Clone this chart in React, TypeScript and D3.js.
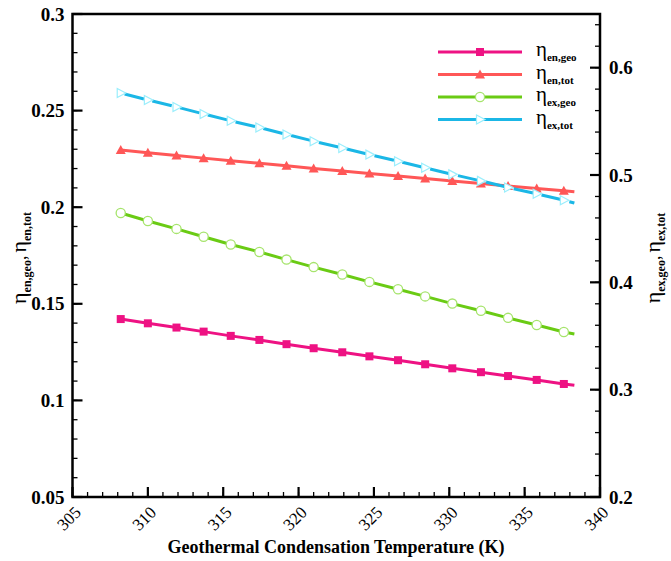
import * as d3 from "d3";

// temperature (K) at each plotted point; the last point only extends the line
const tempK = [308.2, 310.0, 311.9, 313.7, 315.5, 317.4, 319.2, 321.0, 322.9, 324.7, 326.6, 328.4, 330.2, 332.1, 333.9, 335.8, 337.6, 338.3];

const etaEnGeo = [0.1421, 0.1399, 0.1377, 0.1356, 0.1334, 0.1313, 0.1291, 0.127, 0.1249, 0.1228, 0.1208, 0.1187, 0.1166, 0.1146, 0.1126, 0.1106, 0.1085, 0.1078];
const etaEnTot = [0.2296, 0.2282, 0.2268, 0.2254, 0.2241, 0.2227, 0.2214, 0.22, 0.2187, 0.2174, 0.2161, 0.2149, 0.2136, 0.2123, 0.211, 0.2097, 0.2085, 0.208];
const etaExGeo = [0.4646, 0.4571, 0.4498, 0.4425, 0.4353, 0.4283, 0.4212, 0.4142, 0.4073, 0.4004, 0.3936, 0.3869, 0.3802, 0.3735, 0.3669, 0.3602, 0.3537, 0.3519];
const etaExTot = [0.5764, 0.5699, 0.5634, 0.5569, 0.5505, 0.5442, 0.5378, 0.5315, 0.5252, 0.519, 0.5128, 0.5067, 0.5006, 0.4945, 0.4884, 0.4825, 0.4765, 0.4739];

const xTicks = [305, 310, 315, 320, 325, 330, 335, 340];
const leftTicks = [0.05, 0.1, 0.15, 0.2, 0.25, 0.3];
const rightTicks = [0.2, 0.3, 0.4, 0.5, 0.6];

const FONT = "'Liberation Serif', 'DejaVu Serif', serif";
const TXT = { fontFamily: FONT };
const W = 671;
const H = 561;
const PLOT = { left: 72.5, right: 600, top: 14, bottom: 497 };

const x = d3.scaleLinear().domain([305, 340]).range([PLOT.left, PLOT.right]);
const yL = d3.scaleLinear().domain([0.05, 0.3]).range([PLOT.bottom, PLOT.top]);
const yR = d3.scaleLinear().domain([0.2, 0.65]).range([PLOT.bottom, PLOT.top]);

const series = [
  { key: "en,geo", vals: etaEnGeo, scale: yL, color: "#ee1283", marker: "square" },
  { key: "en,tot", vals: etaEnTot, scale: yL, color: "#ff5757", marker: "triUp" },
  { key: "ex,geo", vals: etaExGeo, scale: yR, color: "#6acb14", marker: "circle" },
  { key: "ex,tot", vals: etaExTot, scale: yR, color: "#1bb7e6", marker: "triRight", dash: "20 8.6" },
];

const Marker = ({ type, cx, cy, color }) => {
  if (type === "square") return <rect x={cx - 4} y={cy - 4} width={8} height={8} fill={color} />;
  if (type === "triUp")
    return <path d={`M${cx - 5},${cy + 4}L${cx + 5},${cy + 4}L${cx},${cy - 5}Z`} fill={color} />;
  if (type === "circle")
    return <circle cx={cx} cy={cy} r={4.6} fill="white" stroke="#a6e46c" strokeWidth={1.3} />;
  return (
    <path
      d={`M${cx - 3.5},${cy - 4.5}L${cx + 5},${cy}L${cx - 3.5},${cy + 4.5}Z`}
      fill="white"
      stroke="#9beefc"
      strokeWidth={1.2}
    />
  );
};

const Eta = ({ sub, size = 22, subSize = 12, dy = 0, dx = 0 }) => (
  <>
    <tspan fontSize={size} dy={dy} dx={dx}>η</tspan>
    <tspan fontSize={subSize} fontWeight="bold" dy={5}>{sub}</tspan>
  </>
);

export default function App() {
  const xMinor = d3.range(305, 340.01, 1);
  const lMinor = d3.range(0.05, 0.3001, 0.01);
  const rMinor = d3.range(0.2, 0.6501, 0.02);

  return (
    <svg width={W} height={H} style={{ position: "absolute", left: 0, top: 0, background: "white", fontFamily: FONT }}>
      {/* series */}
      {series.map((s) => {
        const line = d3
          .line<number>()
          .x((_, i) => x(tempK[i]))
          .y((d) => s.scale(d));
        return (
          <g key={s.key}>
            <path
              d={line(s.vals) || ""}
              fill="none"
              stroke={s.color}
              strokeWidth={3}
              strokeDasharray={s.dash}
              strokeDashoffset={s.dash ? -4 : undefined}
            />
            {s.vals.slice(0, -1).map((v, i) => (
              <Marker key={i} type={s.marker} cx={x(tempK[i])} cy={s.scale(v)} color={s.color} />
            ))}
          </g>
        );
      })}

      {/* frame */}
      <rect
        x={PLOT.left}
        y={PLOT.top}
        width={PLOT.right - PLOT.left}
        height={PLOT.bottom - PLOT.top}
        fill="none"
        stroke="black"
        strokeWidth={2.5}
      />

      {/* bottom axis */}
      {xMinor.map((t) => (
        <line key={"xm" + t} x1={x(t)} x2={x(t)} y1={PLOT.bottom} y2={PLOT.bottom - 5} stroke="black" strokeWidth={1.3} />
      ))}
      {xTicks.map((t) => (
        <g key={"x" + t}>
          <line x1={x(t)} x2={x(t)} y1={PLOT.bottom} y2={PLOT.bottom - 10} stroke="black" strokeWidth={2.2} />
          <text
            style={TXT}
            transform={`translate(${x(t) + 1},${PLOT.bottom + 8}) rotate(-45)`}
            textAnchor="end"
            dominantBaseline="hanging"
            fontSize={17}
          >
            {t}
          </text>
        </g>
      ))}

      {/* left axis */}
      {lMinor.map((t, i) => (
        <line key={"lm" + i} x1={PLOT.left} x2={PLOT.left + 5} y1={yL(t)} y2={yL(t)} stroke="black" strokeWidth={1.3} />
      ))}
      {leftTicks.map((t) => (
        <g key={"l" + t}>
          <line x1={PLOT.left} x2={PLOT.left + 10} y1={yL(t)} y2={yL(t)} stroke="black" strokeWidth={2.2} />
          <text style={TXT} x={PLOT.left - 8} y={yL(t)} textAnchor="end" dominantBaseline="central" fontSize={19} fontWeight="bold">
            {t}
          </text>
        </g>
      ))}

      {/* right axis */}
      {rMinor.map((t, i) => (
        <line key={"rm" + i} x1={PLOT.right} x2={PLOT.right - 5} y1={yR(t)} y2={yR(t)} stroke="black" strokeWidth={1.3} />
      ))}
      {rightTicks.map((t) => (
        <g key={"r" + t}>
          <line x1={PLOT.right} x2={PLOT.right - 10} y1={yR(t)} y2={yR(t)} stroke="black" strokeWidth={2.2} />
          <text style={TXT} x={PLOT.right + 9} y={yR(t)} dominantBaseline="central" fontSize={19} fontWeight="bold">
            {t}
          </text>
        </g>
      ))}

      {/* axis titles */}
      <text style={TXT} x={336} y={553} textAnchor="middle" fontSize={18} fontWeight="bold">
        Geothermal Condensation Temperature (K)
      </text>
      <text style={TXT} transform={`translate(26,258) rotate(-90)`} textAnchor="middle" fontSize={22}>
        <Eta sub="en,geo" />
        <tspan fontSize={18} dy={-5}>,</tspan>
        <Eta sub="en,tot" dx={3} />
      </text>
      <text style={TXT} transform={`translate(660,258) rotate(-90)`} textAnchor="middle" fontSize={22}>
        <Eta sub="ex,geo" />
        <tspan fontSize={18} dy={-5}>,</tspan>
        <Eta sub="ex,tot" dx={3} />
      </text>

      {/* legend */}
      {series.map((s, i) => {
        const ly = 52 + i * 22.5;
        return (
          <g key={"lg" + s.key}>
            <line x1={438} x2={522} y1={ly} y2={ly} stroke={s.color} strokeWidth={3} />
            <Marker type={s.marker} cx={480} cy={ly} color={s.color} />
            <text style={TXT} x={536} y={ly + 4} fontSize={21}>
              <Eta sub={s.key} size={21} subSize={11} />
            </text>
          </g>
        );
      })}
    </svg>
  );
}
